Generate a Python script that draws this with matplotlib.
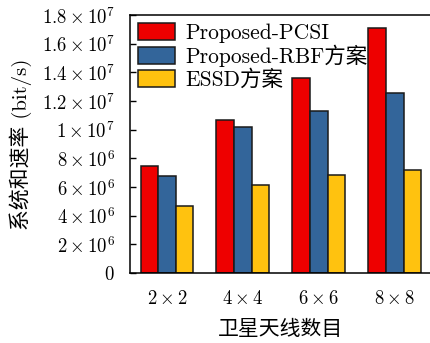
import numpy as np
import matplotlib
matplotlib.use("Agg")
import matplotlib.pyplot as plt
from matplotlib.ticker import FixedLocator, FixedFormatter

plt.rcParams['mathtext.fontset'] = 'cm'
plt.rcParams['font.family'] = ['cmr10', 'Noto Sans CJK SC']
plt.rcParams['axes.unicode_minus'] = False

groups = [r'$2\times2$', r'$4\times4$', r'$6\times6$', r'$8\times8$']
pcsi = [7.47e6, 10.68e6, 13.6e6, 17.1e6]
rbf = [6.77e6, 10.19e6, 11.3e6, 12.56e6]
essd = [4.67e6, 6.14e6, 6.84e6, 7.19e6]
series_names = ['Proposed-PCSI', 'Proposed-RBF方案', 'ESSD方案']
colors = ['#EE0000', '#33659A', '#FFC20F']

yticks = [0, 2e6, 4e6, 6e6, 8e6, 1e7, 1.2e7, 1.4e7, 1.6e7, 1.8e7]
ytick_labels = [r'$0$', r'$2\times10^6$', r'$4\times10^6$', r'$6\times10^6$',
                r'$8\times10^6$', r'$1\times10^7$', r'$1.2\times10^7$',
                r'$1.4\times10^7$', r'$1.6\times10^7$', r'$1.8\times10^7$']

fig = plt.figure(figsize=(4.31, 3.43), dpi=100)
ax = fig.add_axes([0.3016, 0.204, 0.7, 0.752])

x = np.arange(len(groups))
w = 0.232
for i, (vals, name, c) in enumerate(zip([pcsi, rbf, essd], series_names, colors)):
    ax.bar(x + (i - 1) * w, vals, w, color=c, edgecolor='#1a1a1a',
           linewidth=1.1, label=name)

ax.set_xlim(-0.487, 3.487)
ax.set_ylim(0, 1.8e7)
ax.yaxis.set_major_locator(FixedLocator(yticks))
ax.yaxis.set_major_formatter(FixedFormatter(ytick_labels))
ax.set_xticks(x)
ax.set_xticklabels(groups)
ax.tick_params(axis='y', direction='in', length=4, width=1, labelsize=13.5, pad=11)
ax.tick_params(axis='x', length=0, labelsize=13.5, pad=12)
for s in ax.spines.values():
    s.set_linewidth(1.1)

ax.set_ylabel('系统和速率 (bit/s)', fontsize=15, labelpad=7)
ax.set_xlabel('卫星天线数目', fontsize=15, labelpad=9)

ax.legend(loc='upper left', frameon=False, fontsize=15.5, handlelength=1.75,
          handleheight=0.85, handletextpad=0.45, labelspacing=0.1,
          borderaxespad=0.2, borderpad=0.15)

fig.savefig('out.png', dpi=100)
